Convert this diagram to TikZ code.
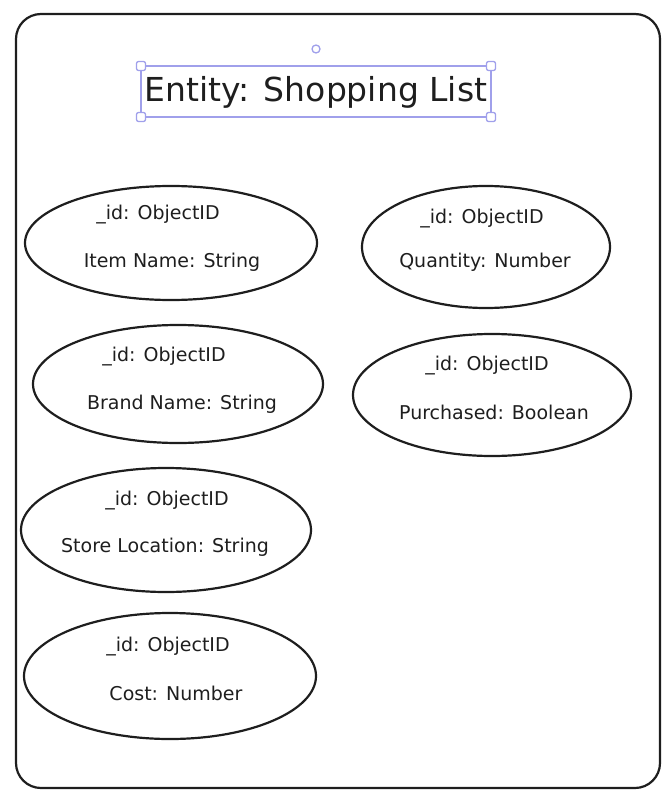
\documentclass[tikz,border=0pt]{standalone}
\usepackage{fontspec}
\setmainfont{DejaVu Sans}
\usetikzlibrary{shapes.geometric}
\definecolor{inkblack}{RGB}{30,30,30}
\definecolor{selviolet}{RGB}{160,160,235}

\tikzset{
  frame/.style={draw=inkblack, line width=2.2pt, rounded corners=25pt},
  attrbox/.style={ellipse, draw=inkblack, line width=2.2pt, inner sep=0pt},
  field/.style={text=inkblack, font=\fontsize{19}{22}\selectfont, inner sep=0pt},
  selbox/.style={draw=selviolet, line width=1.3pt},
  handle/.style={draw=selviolet, fill=white, line width=1.3pt, rounded corners=2pt,
    minimum size=9pt, inner sep=0pt},
}

\begin{document}
\begin{tikzpicture}[x=1pt, y=-1pt]
  \useasboundingbox (0,0) rectangle (671,797);
  % --- outer frame ---
  \draw[frame] (16,14) rectangle (660,788);
  % --- title with selection box ---
  \node[text=inkblack, font=\fontsize{33}{37}\selectfont, inner sep=0pt] (title) at (316,92)
    {Entity: Shopping List};
  \draw[selbox] (141,66) rectangle (491,117);
  \foreach \hx/\hy in {141/66, 491/66, 141/117, 491/117}{
    \node[handle] at (\hx,\hy) {};
  }
  \draw[selbox, fill=white] (316,49) circle (4pt);
  % --- attribute ellipses ---
  \node[attrbox, minimum width=292pt, minimum height=114pt] (item) at (171,243) {};
  \node[attrbox, minimum width=248pt, minimum height=122pt] (qty) at (486,247) {};
  \node[attrbox, minimum width=290pt, minimum height=118pt] (brand) at (178,384) {};
  \node[attrbox, minimum width=278pt, minimum height=122pt] (purch) at (492,395) {};
  \node[attrbox, minimum width=290pt, minimum height=124pt] (store) at (166,530) {};
  \node[attrbox, minimum width=292pt, minimum height=126pt] (cost) at (170,676) {};
  % --- fields ---
  \node[field] (itemid) at (158,215) {\_id: ObjectID};
  \node[field] (itemname) at (172,262) {Item Name: String};
  \node[field] (qtyid) at (482,219) {\_id: ObjectID};
  \node[field] (qtyval) at (485,262) {Quantity: Number};
  \node[field] (brandid) at (164,357) {\_id: ObjectID};
  \node[field] (brandname) at (182,404) {Brand Name: String};
  \node[field] (purchid) at (487,366) {\_id: ObjectID};
  \node[field] (purchval) at (494,412) {Purchased: Boolean};
  \node[field] (storeid) at (167,501) {\_id: ObjectID};
  \node[field] (storeloc) at (165,547) {Store Location: String};
  \node[field] (costid) at (168,647) {\_id: ObjectID};
  \node[field] (costval) at (176,693) {Cost: Number};
\end{tikzpicture}
\end{document}
